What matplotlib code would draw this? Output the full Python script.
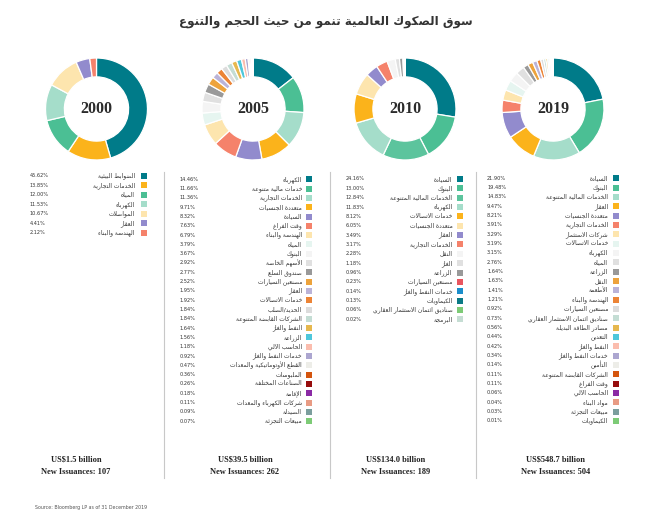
import matplotlib
matplotlib.use("Agg")
import matplotlib.pyplot as plt
from matplotlib.patches import Rectangle

# ---------------- data ----------------
title = "سوق الصكوك العالمية تنمو من حيث الحجم والتنوع"
years = ["2000", "2005", "2010", "2019"]

labels_2000 = ["الضوابط البيئية", "الخدمات التجارية", "المياه", "الكهرباء",
               "المواصلات", "العقار", "الهندسة والبناء"]
values_2000 = [45.62, 13.85, 12.00, 11.53, 10.67, 4.41, 2.12]

labels_2005 = ["الكهرباء", "خدمات مالية متنوعة", "الخدمات التجارية", "متعددة الجنسيات",
               "السيادة", "وقت الفراغ", "الهندسة والبناء", "المياه", "البنوك",
               "الأسهم الخاصة", "صندوق السلع", "مصنعين السيارات", "العقار",
               "خدمات الاتصالات", "الحديد/الصلب", "الشركات القابضة المتنوعة",
               "النفط والغاز", "الزراعة", "الحاسب الآلي", "خدمات النفط والغاز",
               "القطع الأوتوماتيكية والمعدات", "الملبوسات", "الصناعات المختلفة",
               "الإقامة", "شركات الكهرباء والمعدات", "الصيدلة", "مبيعات التجزئة"]
values_2005 = [14.46, 11.66, 11.36, 9.71, 8.32, 7.63, 6.79, 3.79, 3.67, 2.92, 2.77,
               2.52, 1.95, 1.92, 1.84, 1.84, 1.64, 1.56, 1.18, 0.92, 0.47, 0.36,
               0.26, 0.18, 0.11, 0.09, 0.07]

labels_2010 = ["السيادة", "البنوك", "الخدمات المالية المتنوعة", "الكهرباء",
               "خدمات الاتصالات", "متعددة الجنسيات", "العقار", "الخدمات التجارية",
               "النقل", "الغاز", "الزراعة", "مصنعين السيارات", "خدمات النفط والغاز",
               "الكيماويات", "صناديق ائتمان الاستثمار العقاري", "البرمجة"]
values_2010 = [24.16, 13.00, 12.84, 11.83, 8.12, 6.05, 3.49, 3.17, 2.28, 1.18, 0.96,
               0.23, 0.14, 0.13, 0.06, 0.02]

labels_2019 = ["السيادة", "البنوك", "الخدمات المالية المتنوعة", "العقار",
               "متعددة الجنسيات", "الخدمات التجارية", "شركات الاستثمار",
               "خدمات الاتصالات", "الكهرباء", "المياه", "الزراعة", "النقل", "الأطعمة",
               "الهندسة والبناء", "مصنعين السيارات", "صناديق ائتمان الاستثمار العقاري",
               "مصادر الطاقة البديلة", "التعدين", "النفط والغاز", "خدمات النفط والغاز",
               "التأمين", "الشركات القابضة المتنوعة", "وقت الفراغ", "الحاسب الآلي",
               "مواد البناء", "مبيعات التجزئة", "الكيماويات"]
values_2019 = [21.90, 19.48, 14.83, 9.47, 8.21, 3.91, 3.29, 3.19, 3.15, 2.76, 1.64,
               1.63, 1.41, 1.21, 0.92, 0.73, 0.56, 0.44, 0.42, 0.34, 0.14, 0.11, 0.11,
               0.06, 0.04, 0.03, 0.01]

totals = ["US$1.5 billion", "US$39.5 billion", "US$134.0 billion", "US$548.7 billion"]
issuances = ["New Issuances: 107", "New Issuances: 262", "New Issuances: 189",
             "New Issuances: 504"]
source = "Source: Bloomberg LP as of 31 December 2019"

# ---------------- styles ----------------
palette = ["#007B89", "#4BBF94", "#A5DDCA", "#FBB31B", "#928BCD", "#F5826B", "#FDE5AE",
           "#E6F5F0", "#F4F4F4", "#E0E0E0", "#999999", "#EDA33C", "#BAB3D8", "#EC8436",
           "#DCDCDC", "#C4DDD4", "#E6B84E", "#4EC7DB", "#FBBDAE", "#ACA6D0", "#EDEDE8",
           "#D4550E", "#960C0C", "#8B2AA5", "#E89B84", "#7B9E9D", "#7DCB76"]
colors_2000 = ["#007B89", "#FBB31B", "#4BBF94", "#A5DDCA", "#FDE5AE", "#928BCD", "#F5826B"]
colors_2005 = palette
colors_2010 = ["#007B89", "#4BBF94", "#5CC49D", "#A5DDCA", "#FBB31B", "#FDE5AE", "#928BCD",
               "#F5826B", "#F4F4F4", "#E0E0E0", "#999999", "#E9555F", "#1B8ECB",
               "#0B7A86", "#7DCB76", "#C5DDD3"]
colors_2019 = palette

# ---------------- Arabic shaping ----------------
_TWO = {0x0622: 0xFE81, 0x0623: 0xFE83, 0x0624: 0xFE85, 0x0625: 0xFE87, 0x0627: 0xFE8D,
        0x0629: 0xFE93, 0x062F: 0xFEA9, 0x0630: 0xFEAB, 0x0631: 0xFEAD, 0x0632: 0xFEAF,
        0x0648: 0xFEED, 0x0649: 0xFEEF}
_FOUR = {0x0626: 0xFE89, 0x0628: 0xFE8F, 0x062A: 0xFE95, 0x062B: 0xFE99, 0x062C: 0xFE9D,
         0x062D: 0xFEA1, 0x062E: 0xFEA5, 0x0633: 0xFEB1, 0x0634: 0xFEB5, 0x0635: 0xFEB9,
         0x0636: 0xFEBD, 0x0637: 0xFEC1, 0x0638: 0xFEC5, 0x0639: 0xFEC9, 0x063A: 0xFECD,
         0x0641: 0xFED1, 0x0642: 0xFED5, 0x0643: 0xFED9, 0x0644: 0xFEDD, 0x0645: 0xFEE1,
         0x0646: 0xFEE5, 0x0647: 0xFEE9, 0x064A: 0xFEF1}
_ONE = {0x0621: 0xFE80}
_LA = {0x0627: 0xFEFB, 0x0623: 0xFEF7, 0x0625: 0xFEF9, 0x0622: 0xFEF5}


def shape(s):
    toks = []
    i = 0
    while i < len(s):
        c = ord(s[i])
        if c == 0x0644 and i + 1 < len(s) and ord(s[i + 1]) in _LA:
            toks.append((_LA[ord(s[i + 1])], 2))
            i += 2
            continue
        if c in _FOUR:
            toks.append((_FOUR[c], 4))
        elif c in _TWO:
            toks.append((_TWO[c], 2))
        elif c in _ONE:
            toks.append((_ONE[c], 1))
        else:
            toks.append((c, 0))
        i += 1
    out = []
    for k, (base, n) in enumerate(toks):
        if n == 0:
            out.append(chr(base))
            continue
        prev = k > 0 and toks[k - 1][1] == 4
        nxt = n == 4 and k + 1 < len(toks) and toks[k + 1][1] >= 2
        if n == 1:
            off = 0
        elif n == 2:
            off = 1 if prev else 0
        else:
            off = 3 if (prev and nxt) else 1 if prev else 2 if nxt else 0
        out.append(chr(base + off))
    return "".join(out)[::-1]


# ---------------- figure ----------------
W, H = 650, 528
fig = plt.figure(figsize=(W / 100, H / 100), dpi=100)
fig.patch.set_facecolor("white")
base = fig.add_axes([0, 0, 1, 1])
base.set_xlim(0, W)
base.set_ylim(H, 0)
base.axis("off")

ar_font = ["DejaVu Sans"]
base.text(326, 22, shape(title), ha="center", va="center", fontsize=8.6,
          fontweight="bold", color="#333333", family=ar_font)

cols = [
    dict(labels=labels_2000, values=values_2000, colors=colors_2000, cx=96.5,
         pct_x=30, lab_x=135, sq_x=141, y0=175.7, dy=9.5, tx=76),
    dict(labels=labels_2005, values=values_2005, colors=colors_2005, cx=253,
         pct_x=180, lab_x=302, sq_x=306, y0=179.3, dy=9.3, tx=245),
    dict(labels=labels_2010, values=values_2010, colors=colors_2010, cx=405,
         pct_x=346, lab_x=452.5, sq_x=457, y0=179, dy=9.35, tx=396),
    dict(labels=labels_2019, values=values_2019, colors=colors_2019, cx=553,
         pct_x=487, lab_x=608, sq_x=613, y0=178.3, dy=9.33, tx=556),
]

R = 52
CY = 109
for yr, c, tot, iss in zip(years, cols, totals, issuances):
    ax = fig.add_axes([(c["cx"] - R) / W, 1 - (CY + R) / H, 2 * R / W, 2 * R / H])
    ax.pie(c["values"], colors=c["colors"], startangle=90, counterclock=False,
           radius=1, wedgeprops=dict(width=0.37, edgecolor="white", linewidth=0.9))
    ax.set_xlim(-1.02, 1.02)
    ax.set_ylim(-1.02, 1.02)
    ax.set_aspect("equal")
    ax.text(0, 0, yr, ha="center", va="center", fontsize=11.5, fontweight="bold",
            family="Liberation Serif", color="#2b2b2b")

    for i, (lab, v, col) in enumerate(zip(c["labels"], c["values"], c["colors"])):
        y = c["y0"] + i * c["dy"]
        base.text(c["pct_x"], y, f"{v:.2f}%", ha="left", va="center", fontsize=3.6,
                  color="#333333", family="DejaVu Sans")
        base.text(c["lab_x"], y, shape(lab), ha="right", va="center", fontsize=4.3,
                  color="#333333", family=ar_font)
        base.add_patch(Rectangle((c["sq_x"], y - 3), 6, 6, facecolor=col,
                                 edgecolor="none"))

    base.text(c["tx"], 460, tot, ha="center", va="center", fontsize=6,
              fontweight="bold", family="Liberation Serif", color="#222222")
    base.text(c["tx"], 472, iss, ha="center", va="center", fontsize=6,
              fontweight="bold", family="Liberation Serif", color="#222222")

for x in [164, 330, 476]:
    base.plot([x, x], [172, 478], color="#c8c8c8", linewidth=0.8)

base.text(35, 508, source, ha="left", va="center", fontsize=3.4, color="#555555",
          family="DejaVu Sans")

fig.savefig("out.png", dpi=100, facecolor="white")
